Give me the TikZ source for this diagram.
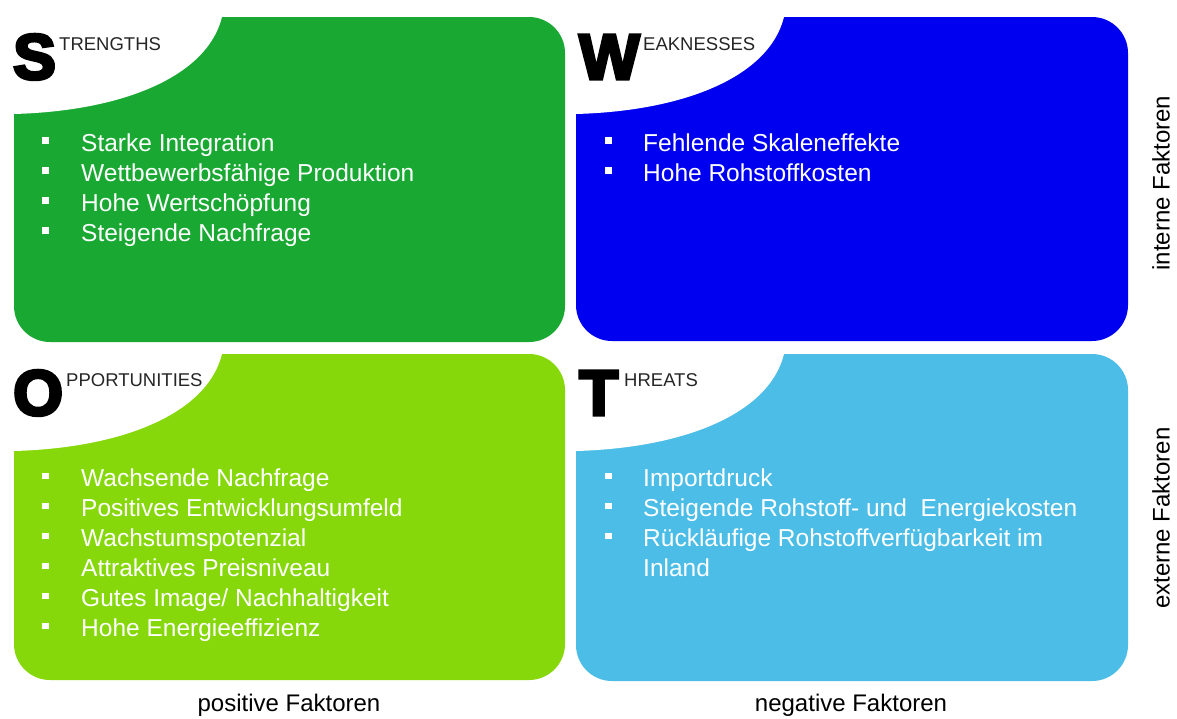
\documentclass[tikz,border=0pt]{standalone}
\usepackage{fontspec}
\setmainfont{Liberation Sans}
\newfontfamily\heavyfont[FakeBold=5]{Liberation Sans Bold}
\definecolor{sgreen}{HTML}{19A933}
\definecolor{olime}{HTML}{86D80A}
\definecolor{wblue}{HTML}{0000F0}
\definecolor{tsky}{HTML}{4CBDE6}
\tikzset{
 quadbox/.style={rounded corners=36pt},
 bigletter/.style={anchor=base west, inner sep=0pt, font=\heavyfont\fontsize{64}{64}\selectfont},
 headtext/.style={anchor=base west, inner sep=0pt, font=\fontsize{18.5}{18.5}\selectfont, text=black!85},
 item/.style={anchor=base west, inner sep=0pt, text=white, font=\fontsize{24.5}{30}\selectfont},
 bul/.style={fill=white, minimum width=7pt, minimum height=6.5pt, inner sep=0pt},
 axislabel/.style={font=\fontsize{24}{24}\selectfont, inner sep=0pt},
}
\newcommand\swotquad[5]{%
  \fill[#1, quadbox] (#2,#3) rectangle (#4,#5);
  \begin{scope}[shift={(#2,#3)}]
    \fill[white] (-6,-6) -- (208,-6) -- (208,0) .. controls (193,60) and (108,94) .. (0,97) -- (-6,97) -- cycle;
  \end{scope}}
\begin{document}
\begin{tikzpicture}[x=1pt,y=-1pt]
\useasboundingbox (0,0) rectangle (1177,718);
\fill[white] (0,0) rectangle (1177,718);

\swotquad{sgreen}{14}{17}{565}{342}
\swotquad{wblue}{576}{17}{1128}{341}
\swotquad{olime}{14}{354}{565}{680}
\swotquad{tsky}{576}{354}{1128}{681}

% headings
\node[bigletter] (Sbig) at (13,79) {S};
\node[headtext] (Shead) at (59,50) {TRENGTHS};
\node[bigletter] (Wbig) at (579,79) {W};
\node[headtext] (Whead) at (643,50) {EAKNESSES};
\node[bigletter] (Obig) at (13,415) {O};
\node[headtext] (Ohead) at (66,386) {PPORTUNITIES};
\node[bigletter] (Tbig) at (579,415) {T};
\node[headtext] (Thead) at (624,386) {HREATS};

% strengths
\foreach \txt [count=\i] in {Starke Integration, Wettbewerbsfähige Produktion, Hohe Wertschöpfung, Steigende Nachfrage}{
  \node[bul] (sb\i) at (45.5,{140.5+30*(\i-1)}) {};
  \node[item] (s\i) at (81,{151+30*(\i-1)}) {\txt};
}
% weaknesses
\foreach \txt [count=\i] in {Fehlende Skaleneffekte, Hohe Rohstoffkosten}{
  \node[bul] (wb\i) at (608.5,{140.5+30*(\i-1)}) {};
  \node[item] (w\i) at (643,{151+30*(\i-1)}) {\txt};
}
% opportunities
\foreach \txt [count=\i] in {Wachsende Nachfrage, Positives Entwicklungsumfeld, Wachstumspotenzial, Attraktives Preisniveau, Gutes Image/ Nachhaltigkeit, Hohe Energieeffizienz}{
  \node[bul] (ob\i) at (45.5,{476+30*(\i-1)}) {};
  \node[item] (o\i) at (81,{486.5+30*(\i-1)}) {\txt};
}
% threats
\foreach \txt [count=\i] in {Importdruck, Steigende Rohstoff- und~ Energiekosten, Rückläufige Rohstoffverfügbarkeit im}{
  \node[bul] (tb\i) at (608.5,{476+30*(\i-1)}) {};
  \node[item] (t\i) at (643,{486.5+30*(\i-1)}) {\txt};
}
\node[item] (t4) at (643,576.5) {Inland};

% axis labels
\node[axislabel, rotate=90] (intern) at (1161,183) {interne Faktoren};
\node[axislabel, rotate=90] (extern) at (1161,518) {externe Faktoren};
\node[axislabel, anchor=base] (pos) at (289,711) {positive Faktoren};
\node[axislabel, anchor=base] (neg) at (851,711) {negative Faktoren};
\end{tikzpicture}
\end{document}
